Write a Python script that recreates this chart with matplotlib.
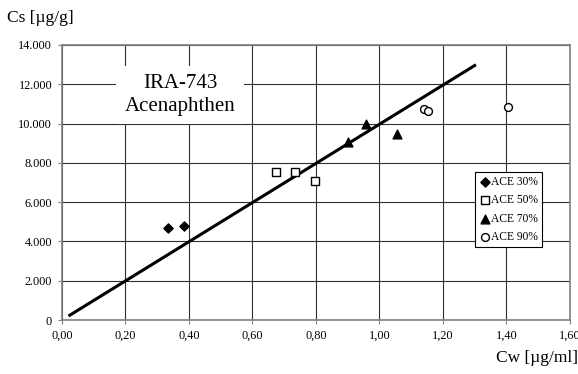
import matplotlib.pyplot as plt
import numpy as np

plt.rcParams['font.family'] = ['Liberation Serif', 'DejaVu Serif']

# data
ace30_x = [0.334, 0.385]
ace30_y = [4700, 4800]
ace50_x = [0.675, 0.734, 0.797]
ace50_y = [7550, 7530, 7080]
ace70_x = [0.902, 0.957, 1.057]
ace70_y = [9050, 10000, 9470]
ace90_x = [1.140, 1.154, 1.406]
ace90_y = [10750, 10650, 10830]
fit_x = [0.025, 1.30]
fit_y = [250, 12950]

x_ticks = np.arange(0, 1.61, 0.2)
x_labels = ['0,00', '0,20', '0,40', '0,60', '0,80', '1,00', '1,20', '1,40', '1,60']
y_ticks = np.arange(0, 14001, 2000)
y_labels = ['0', '2.000', '4.000', '6.000', '8.000', '10.000', '12.000', '14.000']

fig = plt.figure(figsize=(5.78, 3.74), dpi=100)
ax = fig.add_axes([0.107, 0.144, 0.879, 0.736])

ax.grid(True, color='#303030', linewidth=0.8, zorder=0)
for s in ax.spines.values():
    s.set_color('#808080')
    s.set_linewidth(1.2)

ax.plot(fit_x, fit_y, color='black', linewidth=2.2, zorder=3)
ax.scatter(ace30_x, ace30_y, marker='D', s=22, color='black', label='ACE 30%', zorder=4)
ax.scatter(ace50_x, ace50_y, marker='s', s=32, facecolor='white', edgecolor='black',
           linewidth=1.0, label='ACE 50%', zorder=4)
ax.scatter(ace70_x, ace70_y, marker='^', s=40, color='black', label='ACE 70%', zorder=4)
ax.scatter(ace90_x, ace90_y, marker='o', s=32, facecolor='white', edgecolor='black',
           linewidth=1.0, label='ACE 90%', zorder=4)

ax.set_xlim(0, 1.6)
ax.set_ylim(0, 14000)
ax.set_xticks(x_ticks)
ax.set_xticklabels(x_labels, fontsize=8.8)
ax.set_yticks(y_ticks)
ax.set_yticklabels(y_labels, fontsize=8.8)
ax.tick_params(direction='out', length=3, width=0.8, color='#808080', pad=4)

ax.text(0.372, 11450, 'IRA-743\nAcenaphthen', fontsize=15, ha='center', va='center',
        linespacing=1.3, zorder=5,
        bbox=dict(facecolor='white', edgecolor='none', pad=6))

leg = ax.legend(loc='upper left', bbox_to_anchor=(0.813, 0.538), fontsize=8.3,
                frameon=True, fancybox=False, edgecolor='black', framealpha=1,
                borderpad=0.35, labelspacing=0.55, handletextpad=0.05,
                handlelength=1.0, borderaxespad=0)
leg.get_frame().set_linewidth(0.8)
leg.set_zorder(6)

fig.text(0.012, 0.952, 'Cs [µg/g]', fontsize=12.5, ha='left', va='center')
fig.text(1.0, 0.043, 'Cw [µg/ml]', fontsize=12.5, ha='right', va='center')

fig.savefig('out.png', dpi=100)
